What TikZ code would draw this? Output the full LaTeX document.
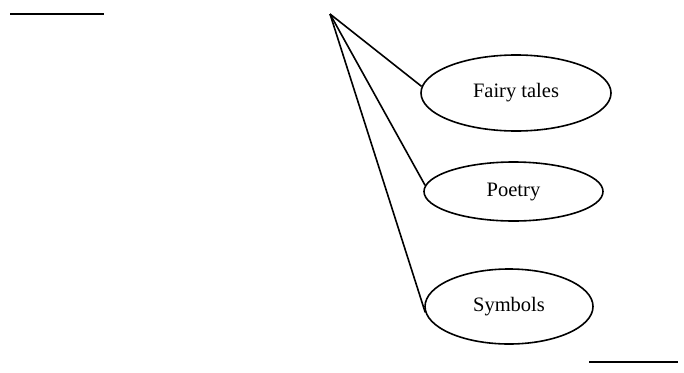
\documentclass[tikz,border=0pt]{standalone}
\usepackage{fontspec}
\setmainfont{Liberation Serif}
\usetikzlibrary{shapes.geometric}
\begin{document}
\begin{tikzpicture}[x=1pt,y=-1pt,
  oval/.style={ellipse,draw,line width=1.6pt,inner sep=0pt,font=\fontsize{20.5}{24}\selectfont},
  conn/.style={line width=1.6pt},
  blank/.style={line width=1.8pt}]
\useasboundingbox (0,0) rectangle (684,372);
\coordinate (apex) at (330,14);
\node[oval,minimum width=190pt,minimum height=76pt] (ft) at (516,93) {\raisebox{5pt}{Fairy tales}};
\node[oval,minimum width=179pt,minimum height=59pt] (po) at (513.5,191.5) {Poetry};
\node[oval,minimum width=168pt,minimum height=75pt] (sy) at (509,306.5) {\raisebox{4pt}{Symbols}};
\coordinate (a1) at (10,14);
\coordinate (a2) at (104,14);
\coordinate (b1) at (589,362);
\coordinate (b2) at (678,362);
\draw[blank] (a1) -- (a2);
\draw[blank] (b1) -- (b2);
\draw[conn] (apex) -- (ft.176);
\draw[conn] (apex) -- (po.176);
\draw[conn] (apex) -- (sy.184);
\end{tikzpicture}
\end{document}
